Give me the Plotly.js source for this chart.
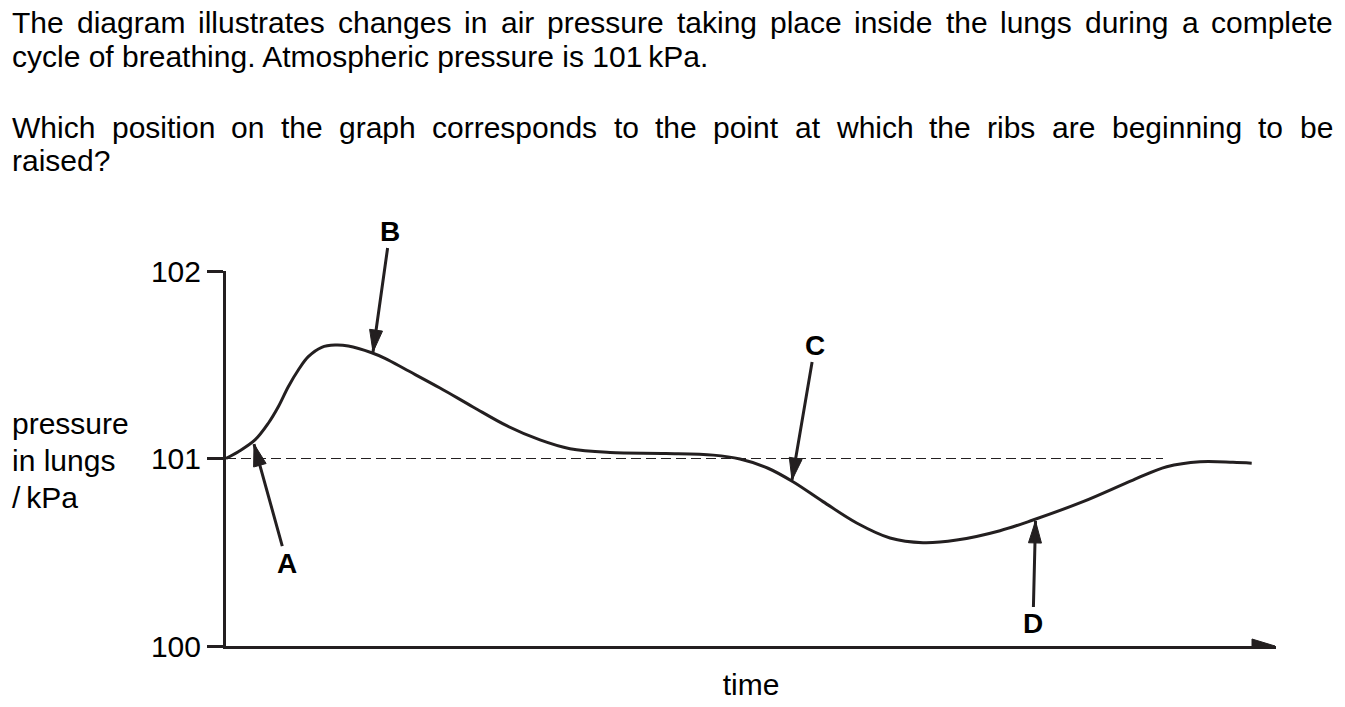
<!DOCTYPE html>
<html>
<head>
<meta charset="utf-8">
<script src="https://cdn.plot.ly/plotly-3.0.1.min.js"></script>
<style>
  html, body { margin: 0; padding: 0; background: #fff; }
  #chart { width: 1345px; height: 707px; }
</style>
</head>
<body>
<div id="chart"></div>
<script>
// ---------------- DATA ----------------
const timePts = [0, 1.23, 2.9, 4.23, 5.23, 6.23, 7.23, 8.23, 9.57, 10.9, 12.23, 14.57, 15.9, 18.07, 21.4, 24.7, 28.07, 31.4, 34.4, 38.4, 44.0, 48.73, 51.4, 54.2, 56.7, 59.7, 63.07, 66.4, 69.7, 73.07, 77.4, 80.7, 85.7, 90.7, 94.07, 97.4, 100.7, 102.57];
const pressure = [101.0, 101.036, 101.099, 101.188, 101.276, 101.383, 101.472, 101.543, 101.593, 101.605, 101.60, 101.564, 101.534, 101.472, 101.376, 101.275, 101.175, 101.099, 101.052, 101.032, 101.027, 101.018, 100.997, 100.948, 100.876, 100.77, 100.656, 100.576, 100.551, 100.565, 100.615, 100.672, 100.77, 100.885, 100.956, 100.983, 100.98, 100.975];

const atmospheric = 101;          // kPa, dashed reference line
const atmLineEnd = 93.7;          // time where the dashed line stops

const pointLabels = ['A', 'B', 'C', 'D'];
const pointTime = [2.8, 14.7, 56.6, 80.95];
const pointPressure = [101.077, 101.568, 100.885, 100.667];

const yTickVals = [100, 101, 102];
const yTickText = ['100', '101', '102'];

const titleLines = [
  'The diagram illustrates changes in air pressure taking place inside the lungs during a complete',
  'cycle of breathing. Atmospheric pressure is 101\u2009kPa.',
  'Which position on the graph corresponds to the point at which the ribs are beginning to be',
  'raised?'
];
const yTitleLines = ['pressure', 'in lungs', '/\u2009kPa'];
const xTitle = 'time';

// ---------------- LAYOUT CONSTANTS ----------------
const W = 1345, H = 707;
const M = { l: 226, r: 69, t: 271, b: 61 };
const plotW = W - M.l - M.r, plotH = H - M.t - M.b;
const FONT = 'Liberation Sans, Arial, sans-serif';
const FS = 30;
const INK = '#231f20';

function px2paperX(px) { return (px - M.l) / plotW; }
function px2paperY(py) { return (H - M.b - py) / plotH; }

// label offsets (pixels, text centre relative to arrow tip)
const labelOffsets = [[33, 119], [17, -121], [23, -135], [-2.5, 103]];

// ---------------- TEXT MEASURE for justified lines ----------------
const cv = document.createElement('canvas').getContext('2d');
cv.font = FS + 'px "Liberation Sans"';

const annotations = [];
const titleY = [22, 56, 127, 160];
const justified = [true, false, true, false];
const textLeft = 12, textRight = 1333;

titleLines.forEach((line, i) => {
  if (justified[i]) {
    const words = line.split(' ');
    const widths = words.map(w => cv.measureText(w).width);
    const sum = widths.reduce((a, b) => a + b, 0);
    const gap = (textRight - textLeft - sum) / (words.length - 1);
    let xpos = textLeft;
    words.forEach((w, k) => {
      annotations.push({
        xref: 'paper', yref: 'paper', x: px2paperX(xpos - 1), y: px2paperY(titleY[i]),
        xanchor: 'left', yanchor: 'middle', text: w, showarrow: false,
        font: { family: FONT, size: FS, color: '#000' }, borderpad: 0
      });
      xpos += widths[k] + gap;
    });
  } else {
    annotations.push({
      xref: 'paper', yref: 'paper', x: px2paperX(textLeft - 1), y: px2paperY(titleY[i]),
      xanchor: 'left', yanchor: 'middle', text: line, showarrow: false,
      font: { family: FONT, size: FS, color: '#000' }, borderpad: 0
    });
  }
});

// y-axis title (three left aligned lines)
const yTitleY = [423, 460, 497];
yTitleLines.forEach((t, i) => {
  annotations.push({
    xref: 'paper', yref: 'paper', x: px2paperX(11), y: px2paperY(yTitleY[i]),
    xanchor: 'left', yanchor: 'middle', text: t, showarrow: false,
    font: { family: FONT, size: FS, color: '#000' }, borderpad: 0
  });
});

// labelled arrows A-D
const shapes = [];
const headL = 22, headW = 6.5;
function headPath(dx, dy, L, Wd) {
  const n = Math.hypot(dx, dy); const ux = dx / n, uy = dy / n;
  const px = -uy, py = ux;
  const bx = ux * L, by = uy * L;
  return 'M0,0 L' + (bx + px * Wd).toFixed(2) + ',' + (by + py * Wd).toFixed(2) +
         ' L' + (bx - px * Wd).toFixed(2) + ',' + (by - py * Wd).toFixed(2) + ' Z';
}

pointLabels.forEach((lab, i) => {
  const [ox, oy] = labelOffsets[i];
  annotations.push({
    x: pointTime[i], y: pointPressure[i], xref: 'x', yref: 'y',
    text: '<b>' + lab + '</b>', showarrow: true, arrowhead: 0,
    arrowwidth: 3, arrowcolor: INK, ax: ox, ay: oy, standoff: 0,
    font: { family: FONT, size: 28, color: '#000' }
  });
  shapes.push({
    type: 'path', xref: 'x', yref: 'y',
    xsizemode: 'pixel', ysizemode: 'pixel',
    xanchor: pointTime[i], yanchor: pointPressure[i],
    path: headPath(ox, -oy, headL, headW),
    fillcolor: INK, line: { color: INK, width: 1 }
  });
});

// x-axis arrowhead
shapes.push({
  type: 'path', xref: 'x', yref: 'y', xsizemode: 'pixel', ysizemode: 'pixel',
  xanchor: 104.9, yanchor: 100, path: headPath(-1, 0, 23, 7),
  fillcolor: INK, line: { color: INK, width: 1 }
});

// atmospheric dashed line
shapes.push({
  type: 'line', xref: 'x', yref: 'y', x0: 0, x1: atmLineEnd, y0: atmospheric, y1: atmospheric,
  line: { color: INK, width: 1, dash: '10px,5px' }, layer: 'below'
});

const trace = {
  x: timePts, y: pressure, type: 'scatter', mode: 'lines',
  line: { color: INK, width: 3, shape: 'spline', smoothing: 1 },
  cliponaxis: false, hoverinfo: 'skip'
};

const layout = {
  width: W, height: H,
  margin: M,
  paper_bgcolor: '#fff', plot_bgcolor: '#fff',
  showlegend: false,
  font: { family: FONT, size: FS, color: '#000' },
  xaxis: {
    range: [0, 105], showgrid: false, zeroline: false, showticklabels: false,
    ticks: '', showline: true, linewidth: 3, linecolor: INK, automargin: false,
    title: { text: xTitle, font: { family: FONT, size: FS, color: '#000' }, standoff: 26 }
  },
  yaxis: {
    range: [100, 102], showgrid: false, zeroline: false, showline: true,
    linewidth: 3, linecolor: INK, ticks: 'outside', ticklen: 16, tickwidth: 3,
    tickcolor: INK, tickvals: yTickVals, ticktext: yTickText, automargin: false,
    tickfont: { family: FONT, size: FS, color: '#000' }
  },
  annotations: annotations,
  shapes: shapes
};

Plotly.newPlot('chart', [trace], layout, { staticPlot: true, displayModeBar: false });
</script>
</body>
</html>
